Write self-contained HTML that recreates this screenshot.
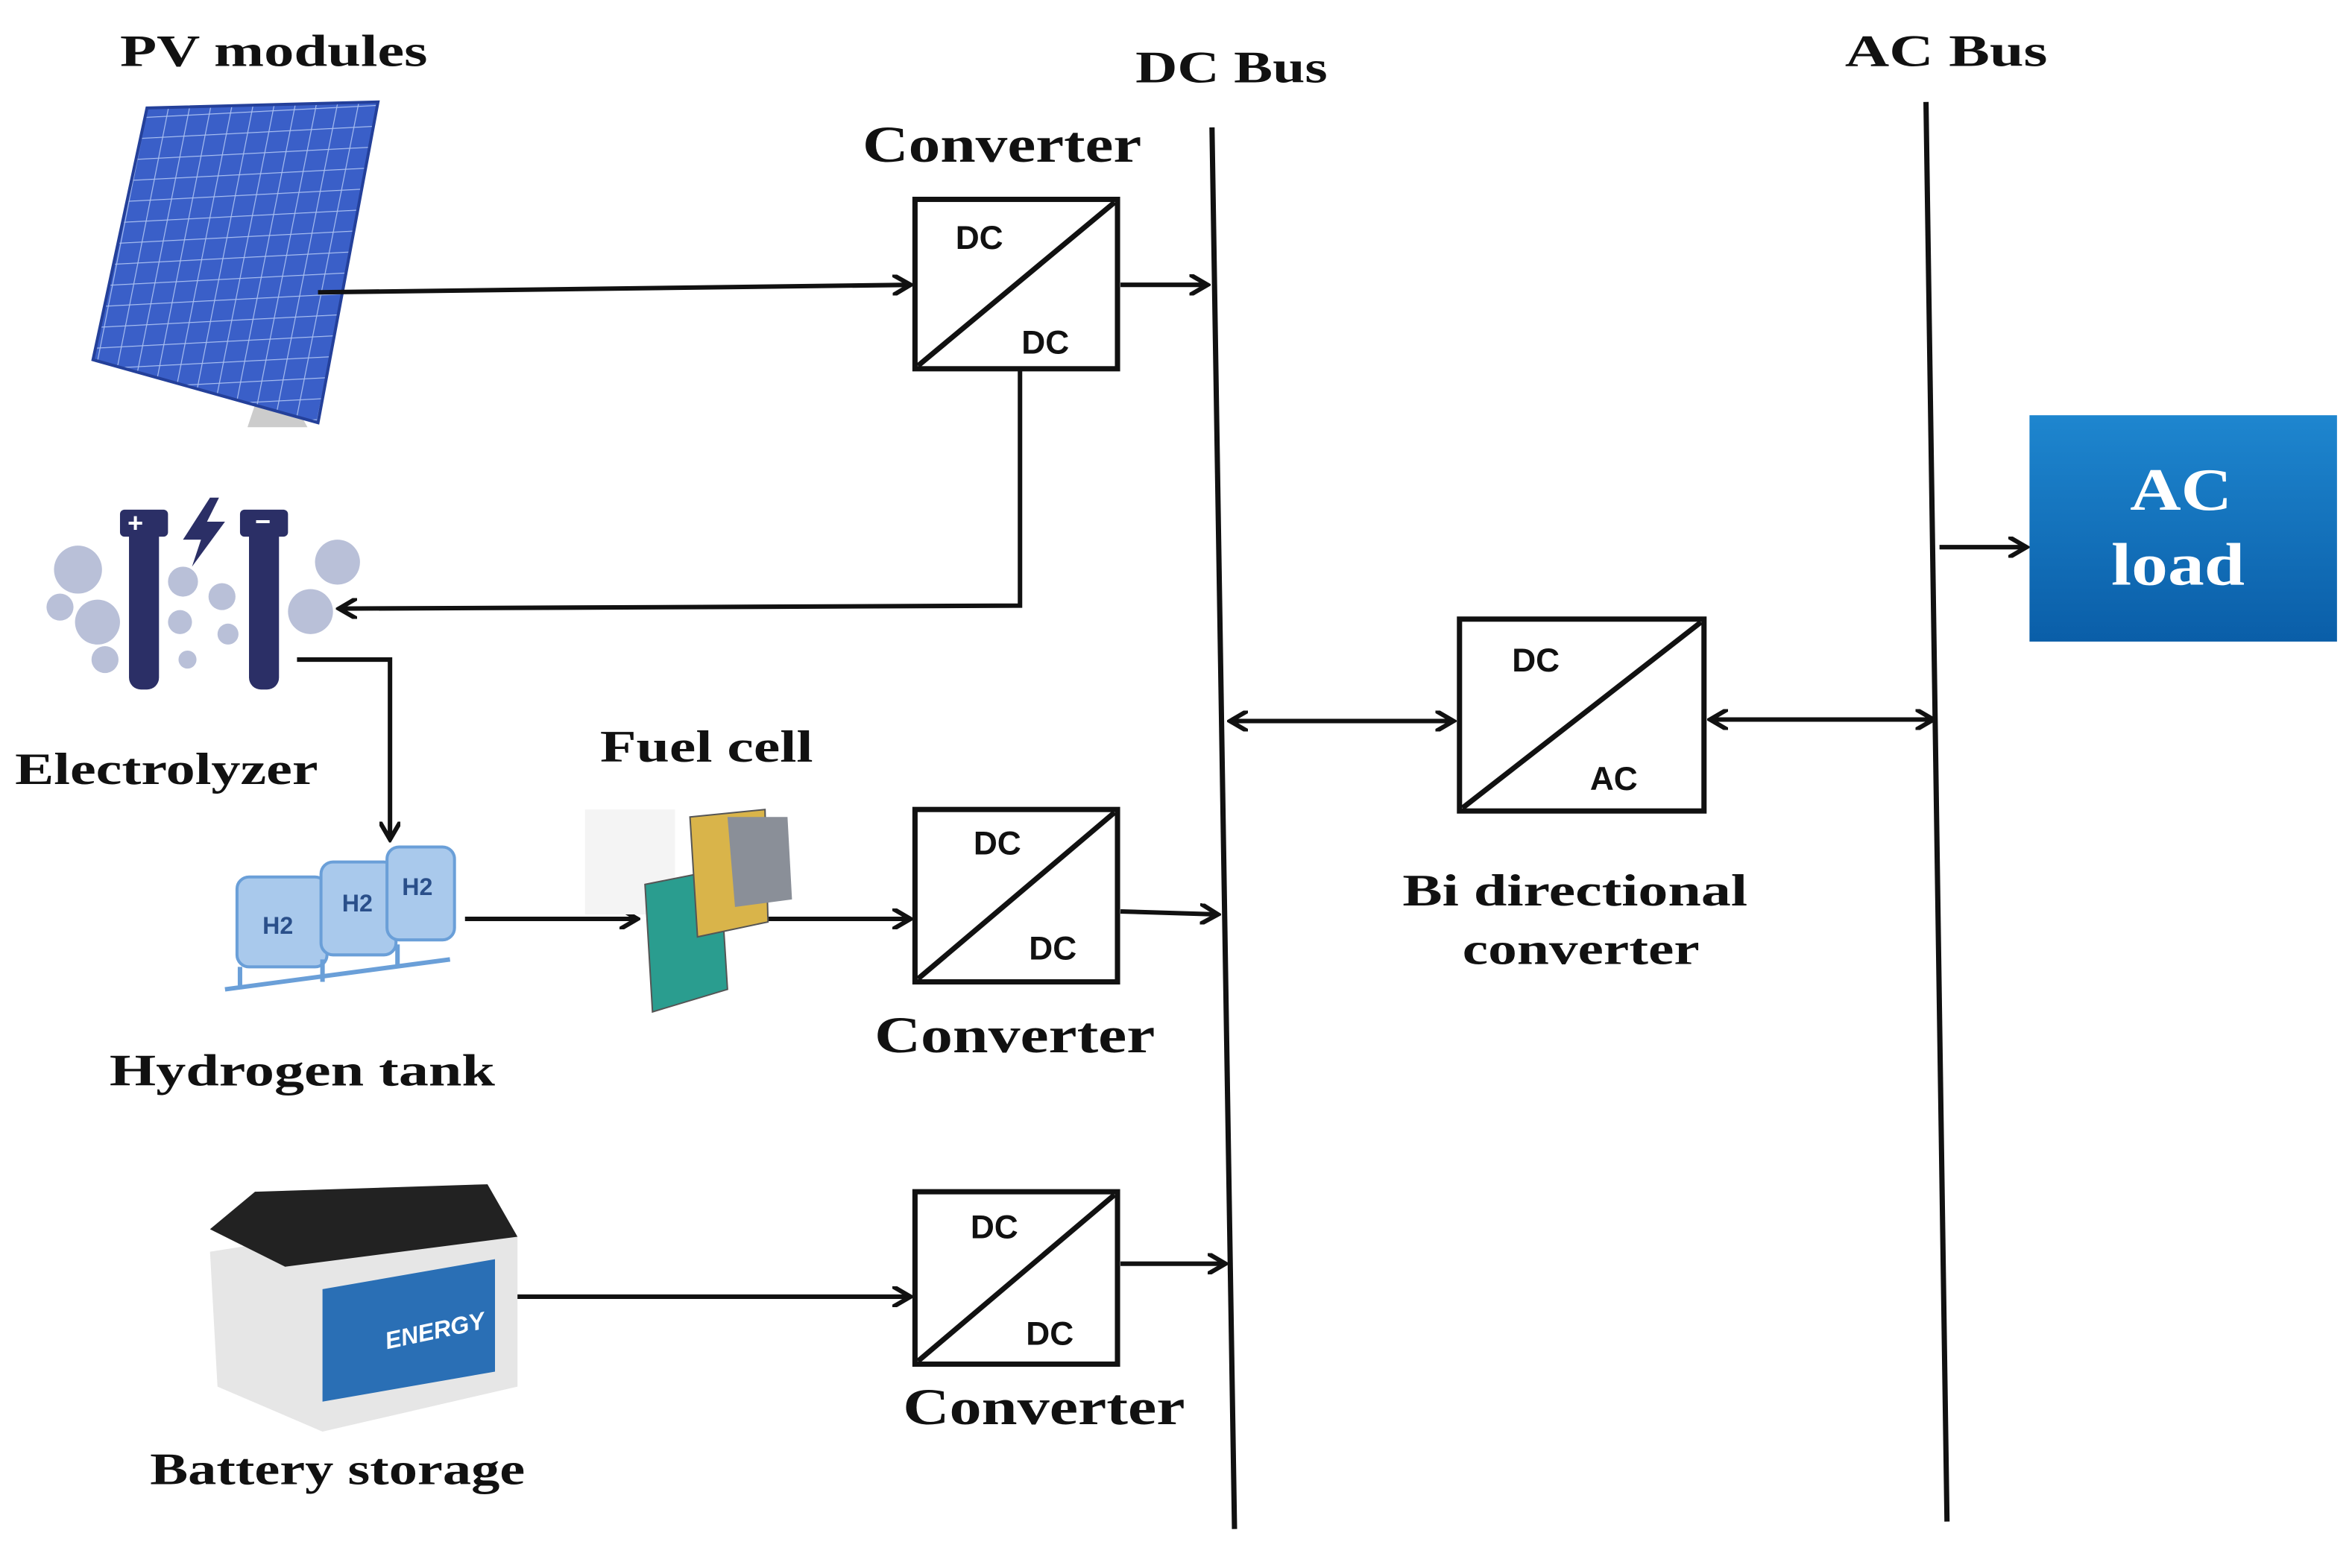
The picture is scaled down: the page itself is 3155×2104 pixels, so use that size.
<!DOCTYPE html>
<html><head><meta charset="utf-8"><style>
html,body{margin:0;padding:0;background:#fff;}
svg{display:block;}
.t{font-family:"Liberation Serif",serif;font-weight:bold;fill:#111;}
.d{font-family:"Liberation Sans",sans-serif;font-weight:bold;fill:#111;font-size:22px;}
</style></head><body>
<svg width="3155" height="2104" viewBox="0 0 1568 1046" preserveAspectRatio="none" xmlns="http://www.w3.org/2000/svg">
<defs>
<marker id="b" markerWidth="14" markerHeight="14" refX="12" refY="7" orient="auto" markerUnits="userSpaceOnUse" viewBox="0 0 14 14">
<path d="M0,0 L12,7 L0,14" fill="none" stroke="#111" stroke-width="3"/></marker>
<marker id="bs" markerWidth="14" markerHeight="14" refX="2" refY="7" orient="auto" markerUnits="userSpaceOnUse" viewBox="0 0 14 14">
<path d="M14,0 L2,7 L14,14" fill="none" stroke="#111" stroke-width="3"/></marker>
<linearGradient id="g" x1="0" y1="0" x2="0" y2="1"><stop offset="0" stop-color="#1e86cf"/><stop offset="1" stop-color="#0a5ea8"/></linearGradient>
<pattern id="p" width="14" height="14" patternUnits="userSpaceOnUse" patternTransform="skewX(-14) rotate(-3)"><rect width="14" height="14" fill="#3a5fc8"/><path d="M0,0H14M0,0V14" stroke="#a9bff0" stroke-width="1.2"/></pattern>
</defs>
<g lengthAdjust="spacingAndGlyphs">
<text class="t" x="80" y="44" font-size="30" textLength="205" lengthAdjust="spacingAndGlyphs">PV modules</text>
<text class="t" x="757" y="55" font-size="30" textLength="128" lengthAdjust="spacingAndGlyphs">DC Bus</text>
<text class="t" x="1230" y="44" font-size="30" textLength="135" lengthAdjust="spacingAndGlyphs">AC  Bus</text>
<text class="t" x="575" y="108" font-size="34" textLength="186" lengthAdjust="spacingAndGlyphs">Converter</text>
<text class="t" x="10" y="523" font-size="30" textLength="202" lengthAdjust="spacingAndGlyphs">Electrolyzer</text>
<text class="t" x="400" y="508" font-size="30" textLength="142" lengthAdjust="spacingAndGlyphs">Fuel cell</text>
<text class="t" x="73" y="724" font-size="30" textLength="257" lengthAdjust="spacingAndGlyphs">Hydrogen tank</text>
<text class="t" x="583" y="702" font-size="34" textLength="187" lengthAdjust="spacingAndGlyphs">Converter</text>
<text class="t" x="100" y="990" font-size="30" textLength="250" lengthAdjust="spacingAndGlyphs">Battery storage</text>
<text class="t" x="602" y="950" font-size="34" textLength="188" lengthAdjust="spacingAndGlyphs">Converter</text>
<text class="t" x="935" y="604" font-size="30" textLength="230" lengthAdjust="spacingAndGlyphs">Bi directional</text>
<text class="t" x="975" y="643" font-size="30" textLength="158" lengthAdjust="spacingAndGlyphs">converter</text>
</g>
<polygon points="180,240 205,285 165,285" fill="#ccc"/>
<polygon points="98,72 252,68 212,282 62,240" fill="url(#p)" stroke="#24409a" stroke-width="2"/>
<line x1="808" y1="85" x2="823" y2="1020" stroke="#111" stroke-width="3.5"/>
<line x1="1284" y1="68" x2="1298" y2="1015" stroke="#111" stroke-width="3.5"/>
<g stroke="#111" stroke-width="3.5" fill="#fff">
<rect x="610" y="133" width="135" height="113"/><line x1="612" y1="244" x2="743" y2="135"/>
<rect x="610" y="540" width="135" height="115"/><line x1="612" y1="653" x2="743" y2="542"/>
<rect x="610" y="795" width="135" height="115"/><line x1="612" y1="908" x2="743" y2="797"/>
<rect x="973" y="413" width="163" height="128"/><line x1="975" y1="539" x2="1134" y2="415"/>
</g>
<text class="d" x="637" y="166">DC</text><text class="d" x="681" y="236">DC</text>
<text class="d" x="649" y="570">DC</text><text class="d" x="686" y="640">DC</text>
<text class="d" x="647" y="826">DC</text><text class="d" x="684" y="897">DC</text>
<text class="d" x="1008" y="448" font-size="25">DC</text><text class="d" x="1060" y="527" font-size="25">AC</text>
<rect x="1353" y="277" width="205" height="151" fill="url(#g)"/>
<text x="1454" y="340" text-anchor="middle" font-family="Liberation Serif,serif" font-weight="bold" font-size="40" fill="#fff" textLength="68" lengthAdjust="spacingAndGlyphs">AC</text>
<text x="1452" y="390" text-anchor="middle" font-family="Liberation Serif,serif" font-weight="bold" font-size="40" fill="#fff" textLength="89" lengthAdjust="spacingAndGlyphs">load</text>
<g stroke="#111" stroke-width="3" fill="none">
<line x1="212" y1="195" x2="607" y2="190" marker-end="url(#b)"/>
<line x1="747" y1="190" x2="805" y2="190" marker-end="url(#b)"/>
<polyline points="680,246 680,404 226,406" marker-end="url(#b)"/>
<polyline points="198,440 260,440 260,560" marker-end="url(#b)"/>
<line x1="310" y1="613" x2="425" y2="613" marker-end="url(#b)"/>
<line x1="510" y1="613" x2="607" y2="613" marker-end="url(#b)"/>
<line x1="747" y1="608" x2="812" y2="610" marker-end="url(#b)"/>
<line x1="330" y1="865" x2="607" y2="865" marker-end="url(#b)"/>
<line x1="747" y1="843" x2="817" y2="843" marker-end="url(#b)"/>
<line x1="820" y1="481" x2="969" y2="481" marker-start="url(#bs)" marker-end="url(#b)"/>
<line x1="1140" y1="480" x2="1289" y2="480" marker-start="url(#bs)" marker-end="url(#b)"/>
<line x1="1293" y1="365" x2="1351" y2="365" marker-end="url(#b)"/>
</g>
<g fill="#b9c0d8">
<circle cx="52" cy="380" r="16"/><circle cx="65" cy="415" r="15"/><circle cx="40" cy="405" r="9"/><circle cx="70" cy="440" r="9"/>
<circle cx="122" cy="388" r="10"/><circle cx="148" cy="398" r="9"/><circle cx="120" cy="415" r="8"/><circle cx="152" cy="423" r="7"/><circle cx="125" cy="440" r="6"/>
<circle cx="207" cy="408" r="15"/><circle cx="225" cy="375" r="15"/>
</g>
<g fill="#2b2f66">
<rect x="86" y="348" width="20" height="112" rx="8"/><rect x="166" y="348" width="20" height="112" rx="8"/>
<rect x="80" y="340" width="32" height="18" rx="3"/><rect x="160" y="340" width="32" height="18" rx="3"/>
<polygon points="140,332 122,360 134,360 128,378 150,348 138,348 146,332"/>
</g>
<text x="85" y="355" fill="#fff" font-family="Liberation Sans,sans-serif" font-weight="bold" font-size="18">+</text>
<text x="170" y="354" fill="#fff" font-family="Liberation Sans,sans-serif" font-weight="bold" font-size="18">−</text>
<g fill="#a9c9ec" stroke="#6a9fd8" stroke-width="2">
<rect x="158" y="585" width="60" height="60" rx="8"/><rect x="214" y="575" width="50" height="62" rx="8"/><rect x="258" y="565" width="45" height="62" rx="8"/>
</g>
<g font-family="Liberation Sans,sans-serif" font-weight="bold" fill="#2a4f8a" font-size="16"><text x="175" y="623">H2</text><text x="228" y="608">H2</text><text x="268" y="597">H2</text></g>
<path d="M150,660 L300,640 M160,645 V660 M215,640 V655 M265,630 V645" stroke="#6a9fd8" stroke-width="3"/>
<rect x="390" y="540" width="60" height="70" fill="#f4f4f4"/>
<polygon points="430,590 480,580 485,660 435,675" fill="#2a9d8f" stroke="#555"/>
<polygon points="460,545 510,540 512,615 465,625" fill="#d9b44a" stroke="#555"/>
<polygon points="485,545 525,545 528,600 490,605" fill="#8a8f98"/>
<polygon points="140,835 330,805 345,825 345,925 215,955 145,925" fill="#e6e6e6"/>
<polygon points="140,820 170,795 325,790 345,825 190,845" fill="#222"/>
<polygon points="215,860 330,840 330,915 215,935" fill="#2a6fb5"/>
<text x="258" y="900" fill="#fff" font-family="Liberation Sans,sans-serif" font-weight="bold" font-style="italic" font-size="16" transform="rotate(-12 258 900)">ENERGY</text>
</svg>
</body></html>
